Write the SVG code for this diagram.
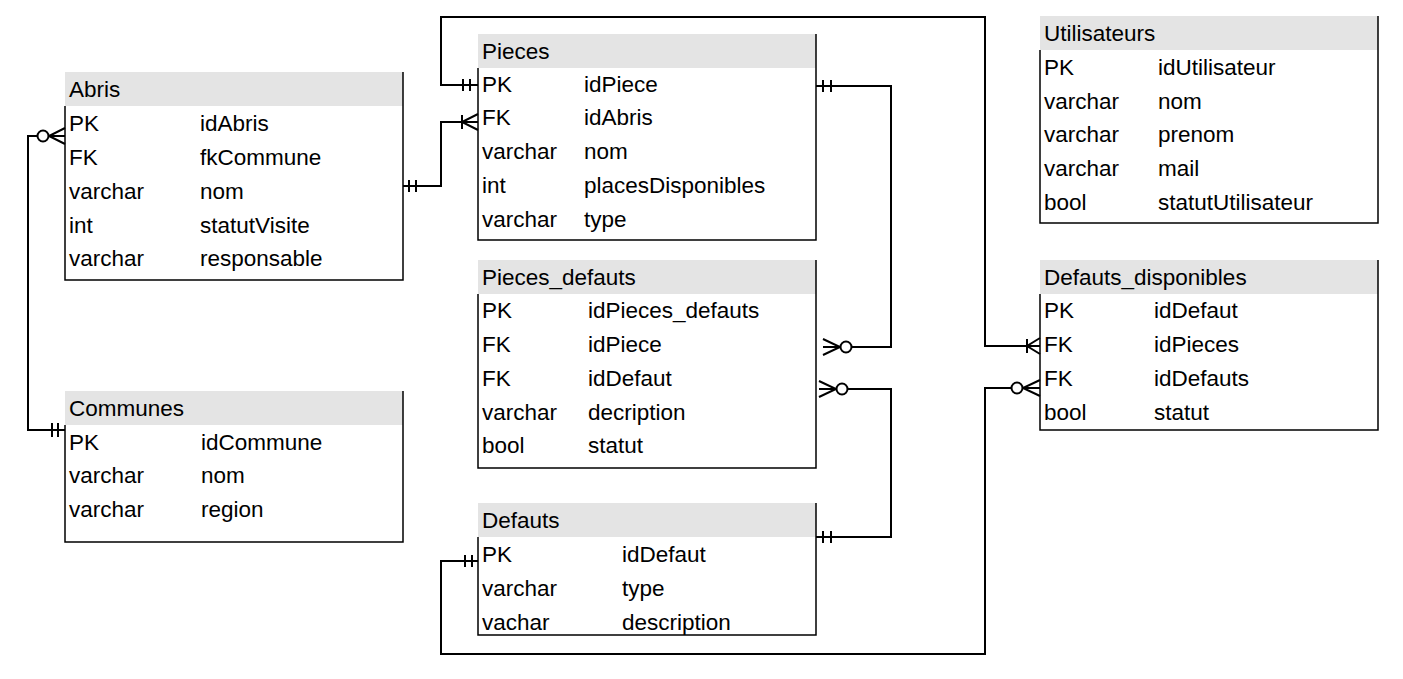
<svg xmlns="http://www.w3.org/2000/svg" width="1403" height="679" viewBox="0 0 1403 679">
<style>
  .hd { fill: #e4e4e4; stroke: none; }
  .bd { fill: none; stroke: #000; stroke-width: 1.5; }
  text { font-family: "Liberation Sans", Arial, sans-serif; font-size: 22.5px; fill: #000; }
  .cn { fill: none; stroke: #000; stroke-width: 2; }
  .ci { fill: #fff; stroke: #000; stroke-width: 2; }
</style>
<rect width="1403" height="679" fill="#fff"/>

<g id="connectors">
  <!-- Abris - Communes -->
  <path class="cn" d="M65,136 H28 V430 H65"/>
  <path class="cn" d="M65,128 L49,136 L65,144 M49,136 H65"/>
  <circle class="ci" cx="43" cy="136" r="5.5"/>
  <path class="cn" d="M52,423 V437 M58,423 V437"/>
  <!-- Abris - Pieces -->
  <path class="cn" d="M403,186 H441 V122 H478"/>
  <path class="cn" d="M409,180 V192 M416,180 V192"/>
  <path class="cn" d="M462,115 V129 M478,114 L462,122 L478,130"/>
  <!-- Pieces - Defauts_disponibles -->
  <path class="cn" d="M478,85 H441 V17 H985 V346 H1040"/>
  <path class="cn" d="M463,79 V91 M470,79 V91"/>
  <path class="cn" d="M1027,339 V353 M1040,338 L1027,346 L1040,354"/>
  <!-- Pieces - Pieces_defauts -->
  <path class="cn" d="M816,86 H891 V347 H851"/>
  <path class="cn" d="M823,80 V92 M831,80 V92"/>
  <path class="cn" d="M823,339 L840,347 L823,355 M823,347 H840"/>
  <circle class="ci" cx="846" cy="347" r="5.5"/>
  <!-- Defauts - Pieces_defauts -->
  <path class="cn" d="M816,537 H891 V389 H847"/>
  <path class="cn" d="M823,531 V543 M831,531 V543"/>
  <path class="cn" d="M819,381 L836,389 L819,397 M819,389 H836"/>
  <circle class="ci" cx="842" cy="389" r="5.5"/>
  <!-- Defauts_disponibles - Defauts -->
  <path class="cn" d="M1012,388 H985 V654 H441 V561 H478"/>
  <path class="cn" d="M1040,380 L1023,388 L1040,396 M1023,388 H1040"/>
  <circle class="ci" cx="1017" cy="388" r="5.5"/>
  <path class="cn" d="M465,555 V567 M472,555 V567"/>
</g>

<g id="abris">
  <rect class="hd" x="65" y="72" width="338" height="34"/>
  <path class="bd" d="M65,106 V280 H403 V72"/>
  <text x="69" y="97">Abris</text>
  <text x="69" y="131">PK</text><text x="200" y="131">idAbris</text>
  <text x="69" y="165">FK</text><text x="200" y="165">fkCommune</text>
  <text x="69" y="199">varchar</text><text x="200" y="199">nom</text>
  <text x="69" y="233">int</text><text x="200" y="233">statutVisite</text>
  <text x="69" y="266">varchar</text><text x="200" y="266">responsable</text>
</g>

<g id="communes">
  <rect class="hd" x="65" y="391" width="338" height="34"/>
  <path class="bd" d="M65,425 V542 H403 V391"/>
  <text x="69" y="416">Communes</text>
  <text x="69" y="450">PK</text><text x="201" y="450">idCommune</text>
  <text x="69" y="483">varchar</text><text x="201" y="483">nom</text>
  <text x="69" y="517">varchar</text><text x="201" y="517">region</text>
</g>

<g id="pieces">
  <rect class="hd" x="478" y="34" width="338" height="34"/>
  <path class="bd" d="M478,68 V240 H816 V34"/>
  <text x="482" y="59">Pieces</text>
  <text x="482" y="92">PK</text><text x="584" y="92">idPiece</text>
  <text x="482" y="125">FK</text><text x="584" y="125">idAbris</text>
  <text x="482" y="159">varchar</text><text x="584" y="159">nom</text>
  <text x="482" y="193">int</text><text x="584" y="193">placesDisponibles</text>
  <text x="482" y="227">varchar</text><text x="584" y="227">type</text>
</g>

<g id="pieces_defauts">
  <rect class="hd" x="478" y="260" width="338" height="34"/>
  <path class="bd" d="M478,294 V468 H816 V260"/>
  <text x="482" y="285">Pieces_defauts</text>
  <text x="482" y="318">PK</text><text x="588" y="318">idPieces_defauts</text>
  <text x="482" y="352">FK</text><text x="588" y="352">idPiece</text>
  <text x="482" y="386">FK</text><text x="588" y="386">idDefaut</text>
  <text x="482" y="420">varchar</text><text x="588" y="420">decription</text>
  <text x="482" y="453">bool</text><text x="588" y="453">statut</text>
</g>

<g id="defauts">
  <rect class="hd" x="478" y="503" width="338" height="34"/>
  <path class="bd" d="M478,537 V635 H816 V503"/>
  <text x="482" y="528">Defauts</text>
  <text x="482" y="562">PK</text><text x="622" y="562">idDefaut</text>
  <text x="482" y="596">varchar</text><text x="622" y="596">type</text>
  <text x="482" y="630">vachar</text><text x="622" y="630">description</text>
</g>

<g id="utilisateurs">
  <rect class="hd" x="1040" y="16" width="338" height="34"/>
  <path class="bd" d="M1040,50 V223 H1378 V16"/>
  <text x="1044" y="41">Utilisateurs</text>
  <text x="1044" y="75">PK</text><text x="1158" y="75">idUtilisateur</text>
  <text x="1044" y="109">varchar</text><text x="1158" y="109">nom</text>
  <text x="1044" y="142">varchar</text><text x="1158" y="142">prenom</text>
  <text x="1044" y="176">varchar</text><text x="1158" y="176">mail</text>
  <text x="1044" y="210">bool</text><text x="1158" y="210">statutUtilisateur</text>
</g>

<g id="defauts_disponibles">
  <rect class="hd" x="1040" y="260" width="338" height="34"/>
  <path class="bd" d="M1040,294 V430 H1378 V260"/>
  <text x="1044" y="285">Defauts_disponibles</text>
  <text x="1044" y="318">PK</text><text x="1154" y="318">idDefaut</text>
  <text x="1044" y="352">FK</text><text x="1154" y="352">idPieces</text>
  <text x="1044" y="386">FK</text><text x="1154" y="386">idDefauts</text>
  <text x="1044" y="420">bool</text><text x="1154" y="420">statut</text>
</g>
</svg>
